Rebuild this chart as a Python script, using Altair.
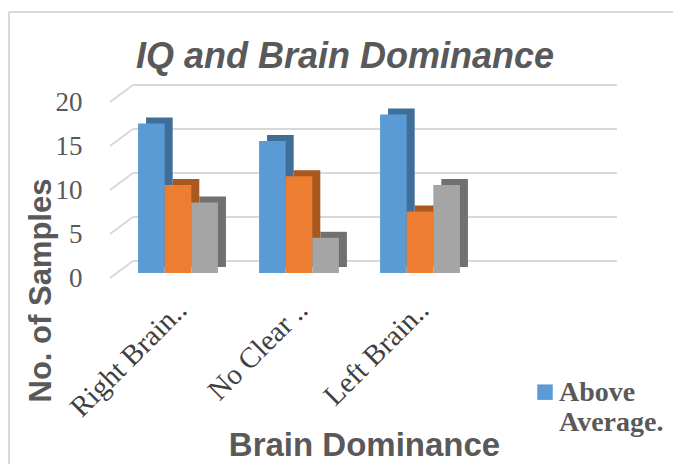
import altair as alt
import pandas as pd

chart_title = "IQ and Brain Dominance"
categories = ["Right Brain..", "No Clear ..", "Left Brain.."]
series_names = ["Above Average.", "Average", "Below Average"]
above_average = [17, 15, 18]
average = [10, 11, 7]
below_average = [8, 4, 10]
y_ticks = [0, 5, 10, 15, 20]

front_colors = ["#5B9BD5", "#ED7D31", "#A5A5A5"]
side_colors = ["#3F6E99", "#A9591F", "#707070"]
text_color = "#595959"

rows = []
for i, c in enumerate(categories):
    for s, vals in zip(series_names, [above_average, average, below_average]):
        rows.append({"cat": c, "series": s, "value": vals[i]})
df = pd.DataFrame(rows)
grid_df = pd.DataFrame({"value": y_ticks})
one = pd.DataFrame({"a": [0]})

x_domain = categories + [" "]
W, H = 484, 176
yscale = alt.Scale(domain=[0, 20])

yaxis = alt.Axis(title="No. of Samples", values=y_ticks, ticks=False, domain=False,
                 grid=False, labelPadding=28, labelFont="Liberation Serif",
                 labelFontSize=27, labelColor=text_color,
                 titleFont="Liberation Sans", titleFontSize=31, titleFontWeight="bold",
                 titleColor=text_color, titleX=-60, titleY=188, titleAngle=270,
                 titleAlign="center", titleBaseline="alphabetic")


def xscale(shift):
    return alt.Scale(domain=x_domain, range=[shift, W + shift],
                     paddingInner=0.34, paddingOuter=0.17)


frame_left = alt.Chart(one).mark_rule(color="#d9d9d9", strokeWidth=2).encode(
    x=alt.value(-101), y=alt.value(-90), y2=alt.value(362))
frame_top = alt.Chart(one).mark_rule(color="#d9d9d9", strokeWidth=2).encode(
    x=alt.value(-101), x2=alt.value(563), y=alt.value(-90))

title_mark = alt.Chart(one).mark_text(
    font="Liberation Sans", fontSize=36, fontWeight="bold", fontStyle="italic",
    color=text_color, align="center", baseline="alphabetic"
).encode(text=alt.value(chart_title), x=alt.value(235), y=alt.value(-34))

grid = alt.Chart(grid_df).mark_rule(color="#d9d9d9", strokeWidth=2, yOffset=-17).encode(
    y=alt.Y("value:Q", scale=yscale, axis=yaxis),
    x=alt.value(23), x2=alt.value(507))
diag = alt.Chart(grid_df).mark_rule(color="#d9d9d9", strokeWidth=2, y2Offset=-17).encode(
    y=alt.Y("value:Q", scale=yscale, axis=yaxis),
    y2=alt.Y2("value:Q"),
    x=alt.value(0), x2=alt.value(23))

back = alt.Chart(df).mark_bar(yOffset=-11, y2Offset=-11).encode(
    x=alt.X("cat:N", scale=xscale(15.5), axis=None),
    xOffset=alt.XOffset("series:N", scale=alt.Scale(domain=series_names)),
    y=alt.Y("value:Q", scale=yscale, axis=yaxis),
    color=alt.Color("series:N", scale=alt.Scale(domain=series_names, range=side_colors), legend=None),
)

front = alt.Chart(df).mark_bar(yOffset=-5, y2Offset=-5).encode(
    x=alt.X("cat:N", scale=xscale(7.5), sort=x_domain,
            axis=alt.Axis(title="Brain Dominance", labelAngle=-45, labelAlign="right",
                          labelBaseline="middle", labelOffset=4, labelPadding=27,
                          ticks=False, domain=False, labelFont="Liberation Serif",
                          labelFontSize=29, labelColor="#404040", labelLimit=300,
                          titleFont="Liberation Sans", titleFontSize=33, titleFontWeight="bold",
                          titleColor=text_color, titleX=254, titleY=177,
                          titleAlign="center", titleBaseline="alphabetic")),
    xOffset=alt.XOffset("series:N", scale=alt.Scale(domain=series_names)),
    y=alt.Y("value:Q", scale=yscale, axis=yaxis),
    color=alt.Color("series:N", scale=alt.Scale(domain=series_names, range=front_colors),
                    legend=alt.Legend(values=[series_names[0]], title=None, orient="none",
                                      legendX=421, legendY=285, padding=0,
                                      symbolType="M-1,-2.14H1V-0.14H-1Z", symbolSize=240,
                                      symbolStrokeWidth=0, labelFont="Liberation Serif",
                                      labelFontWeight="bold", labelFontSize=28,
                                      labelColor=text_color, labelBaseline="alphabetic",
                                      labelOffset=0, labelLimit=300,
                                      labelExpr="split(datum.label, ' ')")),
)

chart = alt.layer(frame_left, frame_top, title_mark, grid, diag, back, front).resolve_scale(
    x="independent", color="independent"
).properties(
    width=W, height=H,
    autosize=alt.AutoSizeParams(type="none"),
    padding={"left": 110, "top": 102, "right": 79, "bottom": 186},
    background="white",
).configure_view(stroke=None)

chart.save("out.html", embed_options={"renderer": "svg", "actions": False})
